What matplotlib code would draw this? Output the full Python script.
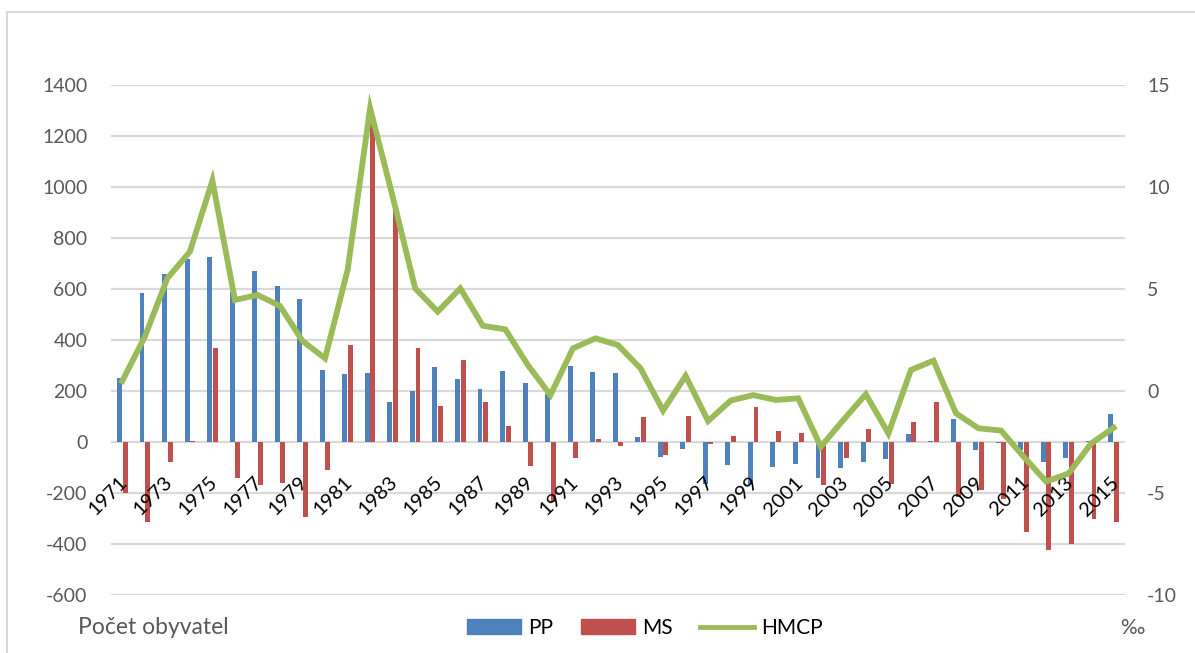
import numpy as np
import matplotlib
matplotlib.use('Agg')
import matplotlib.pyplot as plt
from matplotlib.lines import Line2D
from matplotlib.patches import Patch

plt.rcParams['font.family'] = ['Lato', 'DejaVu Sans']
plt.rcParams['axes.unicode_minus'] = False

years = list(range(1971, 2016))
pp = [250, 583, 658, 716, 727, 590, 672, 613, 560, 281,
      266, 271, 155, 201, 295, 248, 207, 280, 232, 190,
      298, 276, 269, 18, -59, -26, -163, -89, -167, -98,
      -87, -141, -103, -77, -67, 31, 5, 90, -31, -2,
      -31, -77, -64, 3, 108]
ms = [-200, -314, -80, 5, 368, -141, -167, -160, -294, -111,
      381, 1250, 925, 368, 142, 320, 155, 61, -95, -236,
      -63, 13, -14, 100, -52, 103, -6, 25, 137, 44,
      35, -170, -61, 50, -166, 80, 155, -217, -190, -223,
      -354, -423, -401, -301, -314]
hmcp = [0.49, 2.66, 5.52, 6.83, 10.31, 4.46, 4.71, 4.17, 2.45, 1.60,
        5.93, 13.86, 9.53, 5.03, 3.89, 5.03, 3.20, 3.02, 1.27, -0.2,
        2.09, 2.58, 2.25, 1.11, -0.96, 0.74, -1.47, -0.47, -0.2, -0.44,
        -0.36, -2.73, -1.42, -0.16, -2.08, 1.03, 1.49, -1.09, -1.83, -1.94,
        -3.22, -4.44, -4.04, -2.57, -1.80]

blue = '#4F81BD'
red = '#C0504D'
green = '#9BBB59'
grey = '#595959'
gridc = '#D9D9D9'

x = np.arange(len(years))

fig = plt.figure(figsize=(11.95, 6.53), dpi=100)
ax = fig.add_axes([111/1195, 1-595/653, (1125-111)/1195, (595-85)/653])

w = 0.22
ax.bar(x-0.125, pp, width=w, color=blue, zorder=2)
ax.bar(x+0.125, ms, width=w, color=red, zorder=2)
ax.set_xlim(-0.5, len(years)-0.5)
ax.set_ylim(-600, 1400)
ax.set_yticks(np.arange(-600, 1401, 200))
ax.yaxis.grid(True, color=gridc, lw=1.6, zorder=0)
ax.set_axisbelow(True)
ax.set_xticks([])
for s in ax.spines.values():
    s.set_visible(False)
ax.tick_params(axis='y', length=0, labelsize=14, labelcolor=grey, pad=17)

# year labels next to the zero axis
for i, yr in enumerate(years):
    if i % 2 == 0:
        ax.annotate(str(yr), (i, 0), xytext=(1.5, -27), textcoords='offset points',
                    rotation=45, rotation_mode='anchor', ha='right', va='center',
                    fontsize=14.5, color='black', zorder=5)

ax2 = ax.twinx()
ax2.plot(x, hmcp, color=green, lw=4.2, solid_joinstyle='miter', zorder=3)
ax2.set_ylim(-10, 15)
ax2.set_yticks(np.arange(-10, 16, 5))
for s in ax2.spines.values():
    s.set_visible(False)
ax2.tick_params(axis='y', length=0, labelsize=14, labelcolor=grey, pad=16)

fig.text(78/1195, 1-628/653, 'Počet obyvatel', fontsize=16.5, color=grey, va='center')
fig.text(1120/1195, 1-628/653, '‰', fontsize=15, color=grey, va='center')

handles = [Patch(color=blue, label='PP'), Patch(color=red, label='MS'),
           Line2D([], [], color=green, lw=3.5, label='HMCP')]
fig.legend(handles=handles, loc='center', bbox_to_anchor=(645/1195, 1-628/653),
           ncol=3, frameon=False, fontsize=15, handlelength=2.6, handleheight=0.75,
           columnspacing=1.3, handletextpad=0.35)

# chart frame
fig.add_artist(Line2D([7/1195, 7/1195], [0, 1-12/653], color=gridc, lw=1.5))
fig.add_artist(Line2D([7/1195, 1], [1-12/653, 1-12/653], color=gridc, lw=1.5))

fig.savefig('out.png', dpi=100)
